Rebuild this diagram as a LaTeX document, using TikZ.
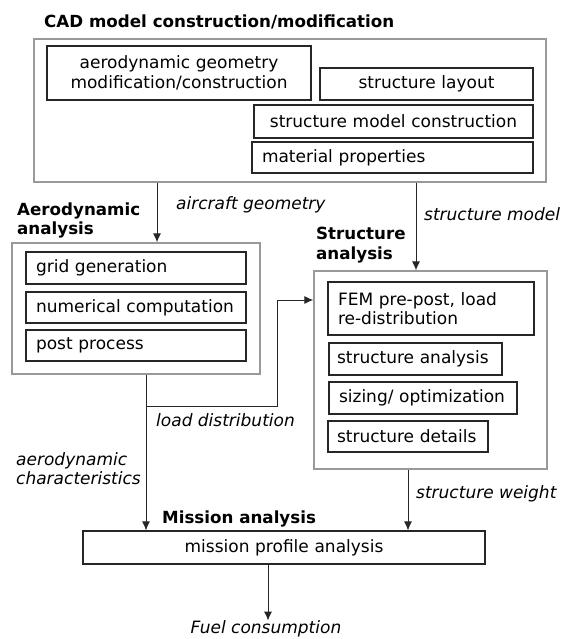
\documentclass[tikz,border=0pt]{standalone}
\usepackage{fontspec}
\setmainfont{DejaVu Sans}
\usetikzlibrary{arrows.meta}
\newcommand{\txtsz}{\fontsize{17}{19.5}\selectfont}
\newcommand{\ttlsz}{\fontsize{16.7}{19.5}\selectfont}
\tikzset{
  inbox/.style={draw=black!85, line width=1.1pt, inner xsep=10pt, inner ysep=0pt, align=left, font=\txtsz},
  outbox/.style={draw=black!40, line width=1.3pt, inner sep=0pt},
  ttl/.style={font=\ttlsz\bfseries, anchor=west, align=left, inner sep=0pt},
  lbl/.style={font=\txtsz\itshape, anchor=west, align=left, inner sep=0pt},
  arr/.style={draw=black!85, line width=1pt, -{Latex[length=9pt,width=8pt]}}
}
\begin{document}
\begin{tikzpicture}[x=1pt,y=-1pt]
\useasboundingbox (0,0) rectangle (560,639);
% CAD block
\node[ttl] (cadt) at (44,22) {CAD model construction/modification};
\node[outbox, minimum width=512pt, minimum height=143pt] (cad) at (290,110.5) {};
\node[inbox, align=center, text width=244pt, minimum height=54pt] (aerogeo) at (179,73) {aerodynamic geometry\\modification/construction};
\node[inbox, align=center, text width=193pt, minimum height=32pt] (slayout) at (426.5,84) {structure layout};
\node[inbox, align=center, text width=259pt, minimum height=33pt] (smodel) at (393.5,121.5) {structure model construction};
\node[inbox, text width=261pt, minimum height=31pt] (matprop) at (392.5,157.5) {material properties};
% Aerodynamic analysis
\node[ttl] (aerot) at (17,220.5) {Aerodynamic\\analysis};
\node[outbox, minimum width=248pt, minimum height=131pt] (aero) at (136,308.5) {};
\node[inbox, text width=200pt, minimum height=32pt] (grid) at (136,268) {grid generation};
\node[inbox, text width=200pt, minimum height=31pt] (numc) at (136,307.5) {numerical computation};
\node[inbox, text width=200pt, minimum height=31pt] (post) at (136,345.5) {post process};
% Structure analysis
\node[ttl] (strt) at (316,245) {Structure\\analysis};
\node[outbox, minimum width=233pt, minimum height=198pt] (str) at (430.5,370) {};
\node[inbox, text width=186pt, minimum height=53pt] (fem) at (431,308.5) {FEM pre-post, load\\re-distribution};
\node[inbox, inner xsep=8pt, text width=157pt, minimum height=32pt] (sana) at (415.5,359) {structure\ analysis};
\node[inbox, text width=168pt, minimum height=32pt] (sizing) at (423,398) {sizing/ optimization};
\node[inbox, text width=142pt, inner xsep=9pt, minimum height=31pt] (sdet) at (408,436.5) {structure details};
% Mission analysis
\node[ttl] (mist) at (162,519) {Mission analysis};
\node[inbox, align=center, text width=382pt, minimum height=33pt] (mission) at (284,547.5) {mission profile analysis};
\node[lbl, anchor=center] (fuel) at (266,629) {Fuel consumption};
% labels
\node[lbl] (lag) at (176,205) {aircraft geometry};
\node[lbl] (lsm) at (424,214) {structure model};
\node[lbl] (lld) at (156,420) {load distribution};
\node[lbl] (lac) at (16,468.5) {aerodynamic\\characteristics};
\node[lbl] (lsw) at (416,494) {structure weight};
% connectors
\draw[arr] (cad.south -| 157,0) -- (aero.north -| 157,0);
\draw[arr] (cad.south -| 416,0) -- (str.north -| 416,0);
\draw[arr] (aero.south -| 146,0) -- (mission.north -| 146,0);
\coordinate (ld) at (146,406);
\draw[arr] (ld) -- (277,406) |- (str.west |- 0,300);
\draw[arr] (str.south -| 408,0) -- (mission.north -| 408,0);
\draw[arr] (mission.south -| 268,0) -- (fuel.north -| 268,0);
\end{tikzpicture}
\end{document}
